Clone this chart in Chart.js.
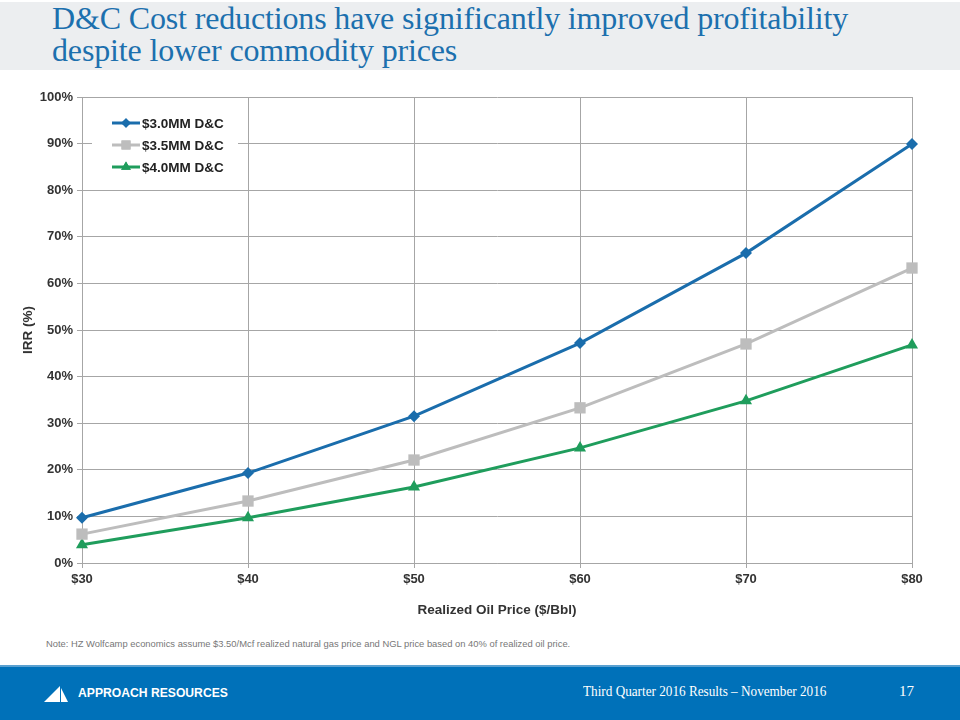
<!DOCTYPE html>
<html><head><meta charset="utf-8">
<script src="https://cdn.jsdelivr.net/npm/chart.js@4.4.1/dist/chart.umd.min.js"></script>
<style>
html,body{margin:0;padding:0;width:960px;height:720px;overflow:hidden;background:#fff;font-family:"Liberation Sans",Arial,sans-serif;}
#band{position:absolute;left:0;top:2px;width:960px;height:68px;background:#eceef0;}
#title{position:absolute;left:52px;top:2px;font-family:"Liberation Serif","Times New Roman",serif;font-size:32px;line-height:32px;color:#1c70ae;letter-spacing:-0.15px;white-space:nowrap;}
#wrap{position:absolute;left:0;top:80px;width:960px;height:540px;}
#note{position:absolute;left:46px;top:638px;font-size:9.4px;color:#777;}
#footer{position:absolute;left:0;top:665px;width:960px;height:55px;background:#0071b9;border-top:2px solid #5aa0d0;}
#brand{position:absolute;left:78px;top:18px;color:#fff;font-weight:bold;font-size:13.5px;transform:scaleX(0.9);transform-origin:left center;}
#logo{position:absolute;left:44px;top:19px;}
#foottxt{position:absolute;left:583px;top:16px;color:#fff;font-family:"Liberation Serif",serif;font-size:15px;transform:scaleX(0.88);transform-origin:left center;white-space:nowrap;}
#page{position:absolute;left:899px;top:16px;color:#fff;font-family:"Liberation Serif",serif;font-size:15px;}
</style></head>
<body>
<div id="band"></div>
<div id="title">D&amp;C Cost reductions have significantly improved profitability<br>despite lower commodity prices</div>
<div id="wrap"><canvas id="c" width="960" height="540"></canvas></div>
<div id="note">Note: HZ Wolfcamp economics assume $3.50/Mcf realized natural gas price and NGL price based on 40% of realized oil price.</div>
<div id="footer">
<svg id="logo" width="26" height="16" viewBox="0 0 26 16"><polygon points="0,16 16,0 16,16" fill="#fff"/><polygon points="17,2 24,16 17,16" fill="#fff"/></svg>
<div id="brand">APPROACH RESOURCES</div>
<div id="foottxt">Third Quarter 2016 Results – November 2016</div>
<div id="page">17</div>
</div>
<script>
const categories = ["$30","$40","$50","$60","$70","$80"];
const seriesNames = ["$3.0MM D&C","$3.5MM D&C","$4.0MM D&C"];
const irr30 = [9.7,19.3,31.5,47.2,66.5,89.9];
const irr35 = [6.2,13.3,22.1,33.3,47.0,63.3];
const irr40 = [3.9,9.7,16.3,24.7,34.8,46.8];
const yTicks = [0,10,20,30,40,50,60,70,80,90,100];

const colors = ["#1a6dac","#bdbdbd","#1f9d5c"];
const styles = ["rectRot","rect","triangle"];
const radii = [6,8,7];
const values = [irr30, irr35, irr40];

const legendPlugin = {
  id:'insideLegend',
  afterDatasetsDraw(chart){
    const ctx = chart.ctx, a = chart.chartArea;
    const x0 = a.left+10, y0 = a.top+10;
    ctx.save();
    ctx.fillStyle = '#fff';
    ctx.fillRect(x0, y0, 146, 72);
    chart.data.datasets.forEach((ds,i)=>{
      const y = y0+16+i*22;
      ctx.strokeStyle = ds.borderColor; ctx.lineWidth = 3;
      ctx.beginPath(); ctx.moveTo(x0+20,y); ctx.lineTo(x0+48,y); ctx.stroke();
      ctx.fillStyle = ds.borderColor;
      ctx.beginPath();
      Chart.helpers.drawPoint(ctx,{pointStyle:ds.pointStyle,radius:ds.pointRadius*0.8,rotation:0,borderWidth:0},x0+34,y);
      ctx.fill();
      ctx.fillStyle = '#222'; ctx.font = 'bold 13.5px "Liberation Sans", Arial, sans-serif';
      ctx.textBaseline = 'middle'; ctx.textAlign = 'left';
      ctx.fillText(ds.label, x0+50, y+1);
    });
    ctx.restore();
  }
};

const fontSpec = {family:'"Liberation Sans", Arial',size:13,weight:'bold'};
new Chart(document.getElementById('c'),{
  type:'line',
  data:{
    labels:categories,
    datasets: seriesNames.map((n,i)=>({
      label:n, data:values[i], borderColor:colors[i], backgroundColor:colors[i],
      borderWidth:3, pointStyle:styles[i], pointRadius:radii[i], pointBorderWidth:0,
      pointBackgroundColor:colors[i], tension:0, fill:false
    }))
  },
  options:{
    responsive:false, animation:false,
    layout:{padding:{left:20,top:17,right:48,bottom:0}},
    plugins:{legend:{display:false},tooltip:{enabled:false}},
    scales:{
      x:{
        offset:false,
        grid:{color:'#a6a6a6',lineWidth:1,tickLength:5,drawTicks:true},
        border:{color:'#a6a6a6',width:1},
        ticks:{color:'#333',font:fontSpec,padding:4,maxRotation:0},
        title:{display:true,text:'Realized Oil Price ($/Bbl)',color:'#333',font:{family:'"Liberation Sans", Arial',size:13.5,weight:'bold'},padding:{top:6,bottom:2}},
        afterFit(s){s.height=57;}
      },
      y:{
        min:0,max:100,
        afterBuildTicks(s){s.ticks = yTicks.map(v=>({value:v}));},
        grid:{color:'#a6a6a6',lineWidth:1,tickLength:5},
        border:{color:'#a6a6a6',width:1},
        ticks:{color:'#333',font:fontSpec,padding:4,callback:v=>v+'%'},
        title:{display:true,text:'IRR (%)',color:'#333',font:{family:'"Liberation Sans", Arial',size:13.5,weight:'bold'},padding:{top:0,bottom:0}},
        afterFit(s){s.width=62;}
      }
    }
  },
  plugins:[legendPlugin]
});
</script>
</body></html>
